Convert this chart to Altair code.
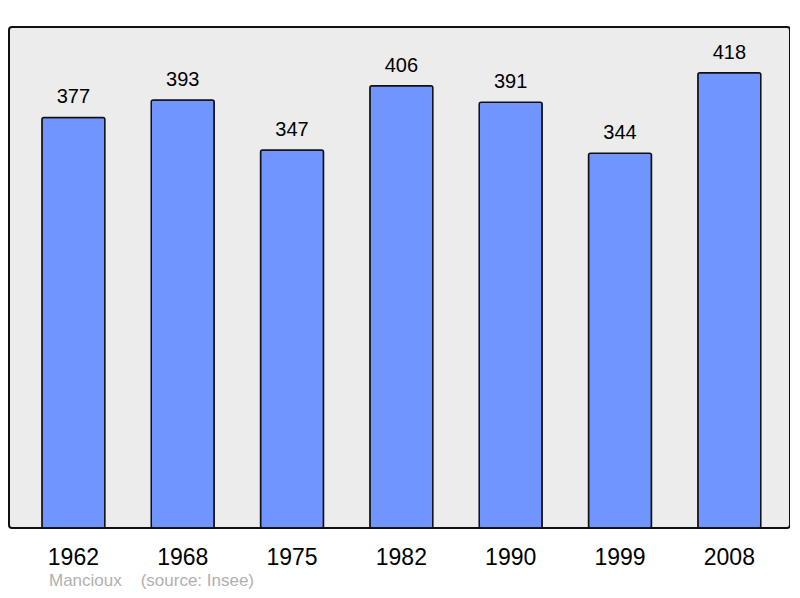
import altair as alt
import pandas as pd

years = ["1962", "1968", "1975", "1982", "1990", "1999", "2008"]
population = [377, 393, 347, 406, 391, 344, 418]

df = pd.DataFrame({"year": years, "pop": population})

FONT = "Liberation Sans"

x = alt.X(
    "year:N",
    sort=years,
    scale=alt.Scale(paddingInner=0.424, paddingOuter=0.284, align=0.53),
    axis=alt.Axis(
        title=None, domain=False, ticks=False, labelAngle=0,
        labelFontSize=23, labelFont=FONT, labelColor="#000000",
        labelPadding=18,
    ),
)
y = alt.Y(
    "pop:Q",
    scale=alt.Scale(domain=[0, 460], nice=False),
    axis=None,
)

bars = alt.Chart(df).mark_bar(
    color="#7095ff", stroke="#111111", strokeWidth=1.5, cornerRadius=2
).encode(x=x, y=y)

labels = alt.Chart(df).mark_text(
    font=FONT, fontSize=20, color="#000000", baseline="alphabetic", dy=-14
).encode(x=x, y=y, text="pop:Q")

chart = (
    alt.layer(bars, labels)
    .properties(
        width=781,
        height=501,
        background="#ffffff",
        autosize=alt.AutoSizeParams(type="none"),
        padding={"left": 1, "top": 19, "right": 0, "bottom": 62},
        title=alt.TitleParams(
            text="Mancioux\u00a0\u00a0\u00a0\u00a0(source: Insee)",
            orient="bottom", anchor="start", frame="group",
            font=FONT, fontSize=17, fontWeight="normal", color="#b0b0b0",
            dx=40, offset=4,
        ),
    )
    .configure_view(fill="#ececec", stroke="#111111", strokeWidth=2, cornerRadius=3)
)

chart.save("out.html", embed_options={"renderer": "svg", "actions": False})
